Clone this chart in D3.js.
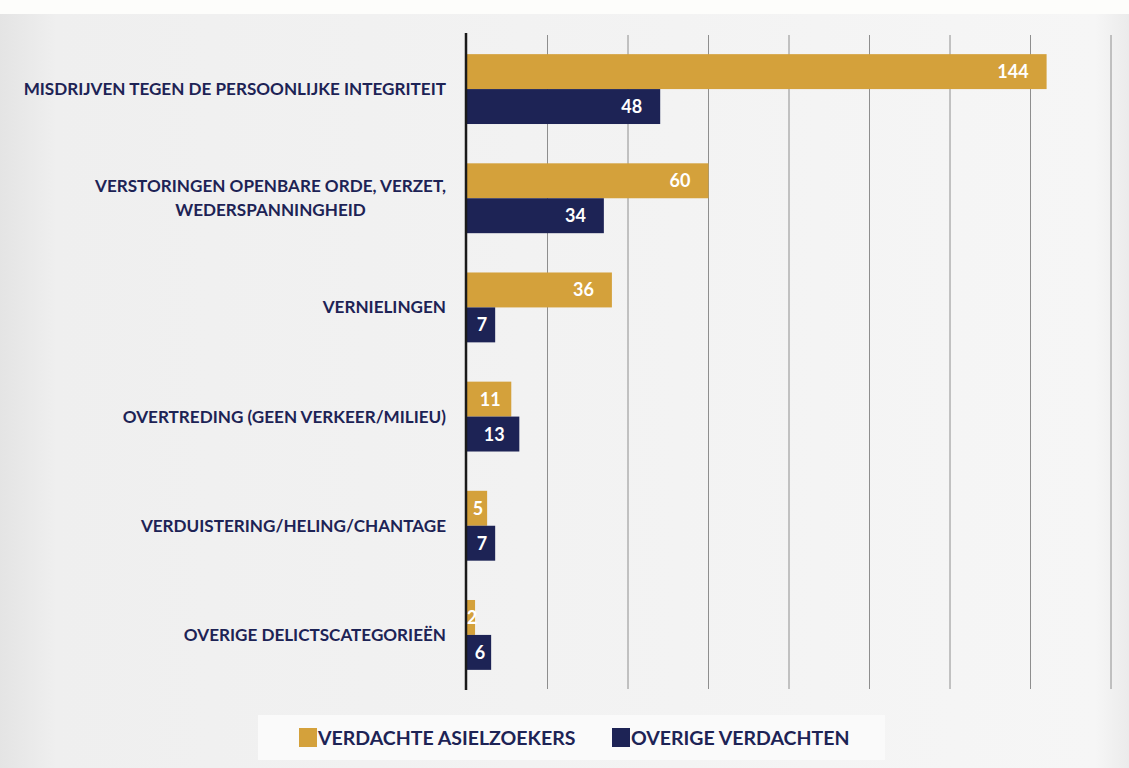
<!DOCTYPE html>
<html><head><meta charset="utf-8">
<script src="https://cdn.jsdelivr.net/npm/d3@7"></script>
<style>html,body{margin:0;padding:0;background:#fff;}svg{display:block;}</style>
</head><body>
<svg id="chart" width="1129" height="768"></svg>
<script>
const categories = [
  ["MISDRIJVEN TEGEN DE PERSOONLIJKE INTEGRITEIT"],
  ["VERSTORINGEN OPENBARE ORDE, VERZET,", "WEDERSPANNINGHEID"],
  ["VERNIELINGEN"],
  ["OVERTREDING (GEEN VERKEER/MILIEU)"],
  ["VERDUISTERING/HELING/CHANTAGE"],
  ["OVERIGE DELICTSCATEGORIEËN"]
];
const seriesNames = ["VERDACHTE ASIELZOEKERS", "OVERIGE VERDACHTEN"];
const asielzoekers = [144, 60, 36, 11, 5, 2];
const overige = [48, 34, 7, 13, 7, 6];
const gridTicks = [0, 20, 40, 60, 80, 100, 120, 140, 160];
const colors = ["#d4a13b", "#1d2355"];

const svg = d3.select("#chart");
const W = 1129, H = 768;
const FONT = "Lato, 'Open Sans', sans-serif";
const NAVY = "#1d2355";

// background
const defs = svg.append("defs");
const g1 = defs.append("linearGradient").attr("id","bg").attr("x1","0").attr("x2","1").attr("y1","0").attr("y2","0");
g1.append("stop").attr("offset","0").attr("stop-color","#e4e4e4");
g1.append("stop").attr("offset","0.05").attr("stop-color","#efefef");
g1.append("stop").attr("offset","0.6").attr("stop-color","#f3f3f3");
g1.append("stop").attr("offset","0.97").attr("stop-color","#f6f6f6");
g1.append("stop").attr("offset","1").attr("stop-color","#ebebeb");
svg.append("rect").attr("width",W).attr("height",H).attr("fill","#fdfdfb");
svg.append("rect").attr("x",0).attr("y",14).attr("width",W).attr("height",H-14).attr("fill","url(#bg)");

const keys = categories.map((c,i)=>i);
const x = d3.scaleLinear().domain([0,160]).range([467,1111]);
const y0 = d3.scaleBand().domain(keys).range([34.5,689.5]).paddingInner(0.36).paddingOuter(0.18);
const y1 = d3.scaleBand().domain([0,1]).range([0,y0.bandwidth()]);

// gridlines
svg.append("g").selectAll("line").data(gridTicks.slice(1)).join("line")
  .attr("x1",d=>x(d)).attr("x2",d=>x(d)).attr("y1",35).attr("y2",689)
  .attr("stroke","#8e8e8e").attr("stroke-width",1);

const data = keys.map(i=>[asielzoekers[i], overige[i]]);

const grp = svg.append("g").selectAll("g").data(data).join("g")
  .attr("transform",(d,i)=>`translate(0,${y0(i)})`);

grp.selectAll("rect").data(d=>d).join("rect")
  .attr("x",x(0)).attr("y",(d,j)=>y1(j)).attr("width",d=>x(d)-x(0)).attr("height",y1.bandwidth())
  .attr("fill",(d,j)=>colors[j]);

grp.selectAll("text.val").data(d=>d).join("text").attr("class","val")
  .attr("y",(d,j)=>y1(j)+y1.bandwidth()/2).attr("dy","0.36em")
  .attr("font-family",FONT).attr("font-weight","bold").attr("font-size",18).attr("fill","#fff")
  .text(d=>d)
  .each(function(d){
    const t = d3.select(this);
    const w = this.getComputedTextLength();
    const bw = x(d)-x(0);
    if (bw > w + 36) { t.attr("x", x(d)-18).attr("text-anchor","end"); }
    else { t.attr("x", x(0)+bw/2+1).attr("text-anchor","middle"); }
  });

// axis line
svg.append("line").attr("x1",x(0)-1).attr("x2",x(0)-1).attr("y1",33).attr("y2",690)
  .attr("stroke","#1a1a1a").attr("stroke-width",2.5);

// category labels
svg.append("g").selectAll("text").data(categories).join("text")
  .attr("font-family",FONT).attr("font-weight","bold").attr("font-size",17.1).attr("fill",NAVY)
  .each(function(lines,i){
    const t = d3.select(this);
    const cy = y0(i)+y0.bandwidth()/2;
    const lh = 24;
    const n = lines.length;
    if (n===1){
      t.append("tspan").attr("x",446).attr("text-anchor","end").attr("y",cy).attr("dy","0.35em").text(lines[0]);
    } else {
      t.append("tspan").attr("x",446).attr("text-anchor","end").attr("y",cy-lh/2).attr("dy","0.35em").text(lines[0]);
      const w0 = t.select("tspan").node().getComputedTextLength();
      const mid = 446 - w0/2;
      for (let k=1;k<n;k++){
        t.append("tspan").attr("x",mid).attr("text-anchor","middle").attr("y",cy-lh/2+lh*k).attr("dy","0.35em").text(lines[k]);
      }
    }
  });

// legend
svg.append("rect").attr("x",258).attr("y",715).attr("width",627).attr("height",45).attr("fill","#fafafa");
const legX = [299, 612];
const lg = svg.append("g").selectAll("g").data(seriesNames).join("g")
  .attr("transform",(d,i)=>`translate(${legX[i]},728)`);
lg.append("rect").attr("width",18).attr("height",19).attr("fill",(d,i)=>colors[i]);
lg.append("text").attr("x",19).attr("y",9.5).attr("dy","0.36em")
  .attr("font-family",FONT).attr("font-weight","bold").attr("font-size",19.5).attr("fill",NAVY)
  .text(d=>d);
</script>
</body></html>
